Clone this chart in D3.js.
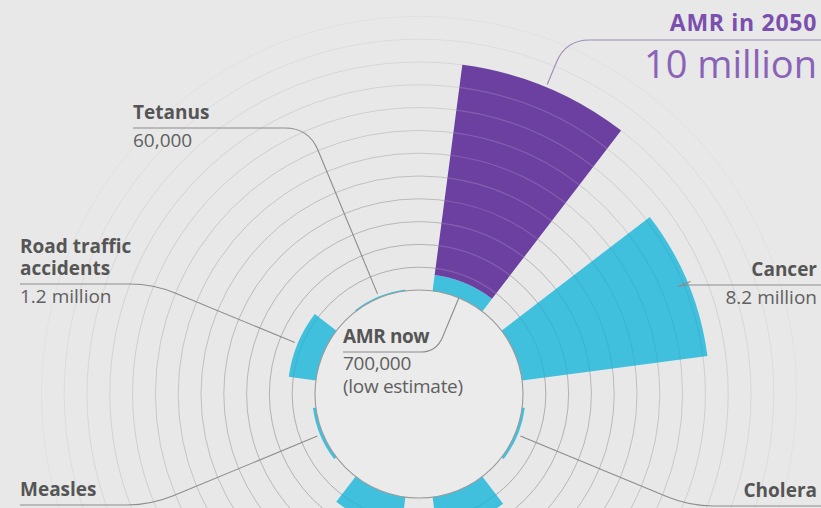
<!DOCTYPE html>
<html>
<head>
<meta charset="utf-8">
<script src="https://cdn.jsdelivr.net/npm/d3@7"></script>
<style>
  html, body { margin: 0; padding: 0; background: #e8e8e8; }
  svg { display: block; font-family: "Open Sans", "Noto Sans", sans-serif; }
</style>
</head>
<body>
<svg id="chart" width="821" height="508"></svg>
<script>
// Annual deaths by cause, in millions
const causes = ["AMR in 2050", "Cancer", "Cholera", "Diabetes", "Diarrhoeal disease", "Measles", "Road traffic accidents", "Tetanus"];
const deathsMillions = [10, 8.2, 0.12, 1.5, 1.4, 0.13, 1.2, 0.06];
const titleLines = [["AMR in 2050"], ["Cancer"], ["Cholera"], ["Diabetes"], ["Diarrhoeal", "disease"], ["Measles"], ["Road traffic", "accidents"], ["Tetanus"]];
const valueLabels = ["10 million", "8.2 million", "100,000–120,000", "1.5 million", "1.4 million", "130,000", "1.2 million", "60,000"];

// Present-day AMR deaths, stacked at the base of the 2050 bar
const amrNowMillions = 0.7;
const amrNowTitle = "AMR now";
const amrNowLabels = ["700,000", "(low estimate)"];

// Reference rings, one per million deaths
const ringValues = [1, 2, 3, 4, 5, 6, 7, 8, 9, 10, 11, 12];

const width = 821, height = 508;
const cx = 419, cy = 394;
const innerR = 104;

const svg = d3.select("#chart");
const g = svg.append("g").attr("transform", `translate(${cx},${cy})`);

const angle = d3.scaleBand()
  .domain(causes)
  .range([0, 2 * Math.PI])
  .paddingInner(1 / 3)
  .paddingOuter(1 / 6);

const radius = d3.scaleLinear().domain([0, 10]).range([innerR, 332]);

const PURPLE = "#6b40a0";
const CYAN = "#40c0dd";

// Rings behind the bars, fading outward
const ringOpacity = d3.scaleLinear().domain([1, 12]).range([0.62, 0.08]);
g.append("g").selectAll("circle")
  .data(ringValues)
  .join("circle")
  .attr("r", d => radius(d))
  .attr("fill", "none")
  .attr("stroke", "#8a8a8a")
  .attr("stroke-width", 1)
  .attr("stroke-opacity", d => ringOpacity(d));

// Inner disc
g.append("circle").attr("r", innerR).attr("fill", "#ebebeb");

const arc = d3.arc();

// Bar segments
const segments = [];
causes.forEach((c, i) => {
  if (c === "AMR in 2050") {
    segments.push({ cause: c, from: 0, to: amrNowMillions, color: CYAN });
    segments.push({ cause: c, from: amrNowMillions, to: deathsMillions[i], color: PURPLE });
  } else {
    segments.push({ cause: c, from: 0, to: deathsMillions[i], color: CYAN });
  }
});

const bars = g.append("g");
bars.selectAll("path")
  .data(segments)
  .join("path")
  .attr("d", d => arc({
    innerRadius: radius(d.from),
    outerRadius: radius(d.to),
    startAngle: angle(d.cause),
    endAngle: angle(d.cause) + angle.bandwidth()
  }))
  .attr("fill", d => d.color);

// Ring arcs drawn across the bars
const ringOverlays = [];
segments.forEach(s => {
  ringValues.forEach(v => {
    if (v > s.from && v < s.to) ringOverlays.push({ seg: s, v });
  });
});
bars.append("g").selectAll("path")
  .data(ringOverlays)
  .join("path")
  .attr("d", d => {
    const a0 = angle(d.seg.cause), a1 = a0 + angle.bandwidth();
    const r = radius(d.v);
    const p0 = [r * Math.sin(a0), -r * Math.cos(a0)];
    const p1 = [r * Math.sin(a1), -r * Math.cos(a1)];
    return `M${p0[0]},${p0[1]}A${r},${r} 0 0 1 ${p1[0]},${p1[1]}`;
  })
  .attr("fill", "none")
  .attr("stroke", d => d.seg.color === PURPLE ? "#ffffff" : "#1a6f85")
  .attr("stroke-opacity", d => d.seg.color === PURPLE ? 0.16 : 0.12)
  .attr("stroke-width", 1.2);

// Inner circle outline
g.append("circle").attr("r", innerR).attr("fill", "none").attr("stroke", "#9a9a9a").attr("stroke-width", 1.1);

// Label layout for each cause (screen coordinates)
const labelLayout = {
  "AMR in 2050": { anchor: "end", x: 817, lineY: 40, titleSize: 23, titleSpacing: 0.7, valueSize: 38, titleColor: "#7a4fae", valueColor: "#8a63b8", lineColor: "#9c8ab4" },
  "Cancer": { anchor: "end", x: 817, lineY: 285 },
  "Cholera": { anchor: "end", x: 817, lineY: 506 },
  "Diabetes": { anchor: "start", x: 560, lineY: 560 },
  "Diarrhoeal disease": { anchor: "end", x: 280, lineY: 560 },
  "Measles": { anchor: "start", x: 20, lineY: 505 },
  "Road traffic accidents": { anchor: "start", x: 20, lineY: 284 },
  "Tetanus": { anchor: "start", x: 133, lineY: 128 }
};

const labels = svg.append("g");

function leaderPath(theta, rStart, lineY, endX, inward, corner) {
  const dir = inward ? -1 : 1;
  const ux = Math.sin(theta) * dir, uy = -Math.cos(theta) * dir;
  const sx = cx + rStart * Math.sin(theta), sy = cy - rStart * Math.cos(theta);
  const t = (lineY - sy) / uy;
  const kx = sx + ux * t, ky = lineY;
  const hx = Math.sign(endX - kx);
  const d = Math.min(corner, Math.abs(t) * 0.5);
  const bx = kx - ux * d, by = ky - uy * d;
  return `M${sx},${sy}L${bx},${by}Q${kx},${ky} ${kx + hx * d},${ky}L${endX},${ky}`;
}

causes.forEach((c, i) => {
  const L = labelLayout[c];
  const theta = angle(c) + angle.bandwidth() / 2;
  const rStart = radius(deathsMillions[i]) + 3;
  const endX = L.anchor === "end" ? width : L.x;
  labels.append("path")
    .attr("d", leaderPath(theta, rStart, L.lineY, endX, false, 24))
    .attr("fill", "none")
    .attr("stroke", L.lineColor || "#8c8c8c")
    .attr("stroke-width", 1.1);

  const titleSize = L.titleSize || 19;
  const lines = titleLines[i];
  const firstY = L.lineY - 9 - (lines.length - 1) * 22;
  // Labels for bars whose text falls below the visible area are left out
  if (firstY - titleSize * 0.75 < height) {
    const title = labels.append("text")
      .attr("text-anchor", L.anchor)
      .attr("font-size", titleSize)
      .attr("font-weight", 700)
      .attr("letter-spacing", L.titleSpacing || 0)
      .attr("fill", L.titleColor || "#555555");
    lines.forEach((t, j) => {
      title.append("tspan")
        .attr("x", L.x)
        .attr("y", firstY + j * 22)
        .text(t);
    });
  }
  const valueSize = L.valueSize || 19;
  const valueY = L.lineY + (L.valueSize ? 38 : 19);
  if (valueY - valueSize * 0.75 < height) {
    labels.append("text")
      .attr("x", L.x)
      .attr("y", valueY)
      .attr("text-anchor", L.anchor)
      .attr("font-size", valueSize)
      .attr("fill", L.valueColor || "#606060")
      .text(valueLabels[i]);
  }
});

// "AMR now" label inside the disc, led from the inner edge of the stacked segment
{
  const theta = angle("AMR in 2050") + angle.bandwidth() / 2;
  const lineY = 352, x = 343;
  labels.append("path")
    .attr("d", leaderPath(theta, radius(0), lineY, x, true, 16))
    .attr("fill", "none")
    .attr("stroke", "#8c8c8c")
    .attr("stroke-width", 1.1);
  labels.append("text")
    .attr("x", x).attr("y", lineY - 9)
    .attr("font-size", 19).attr("font-weight", 700)
    .attr("letter-spacing", -0.4)
    .attr("fill", "#555555")
    .text(amrNowTitle);
  const sub = labels.append("text")
    .attr("font-size", 19)
    .attr("letter-spacing", -0.3)
    .attr("fill", "#606060");
  amrNowLabels.forEach((t, j) => {
    sub.append("tspan")
      .attr("x", x).attr("y", lineY + 18 + j * 23)
      .text(t);
  });
}
</script>
</body>
</html>
